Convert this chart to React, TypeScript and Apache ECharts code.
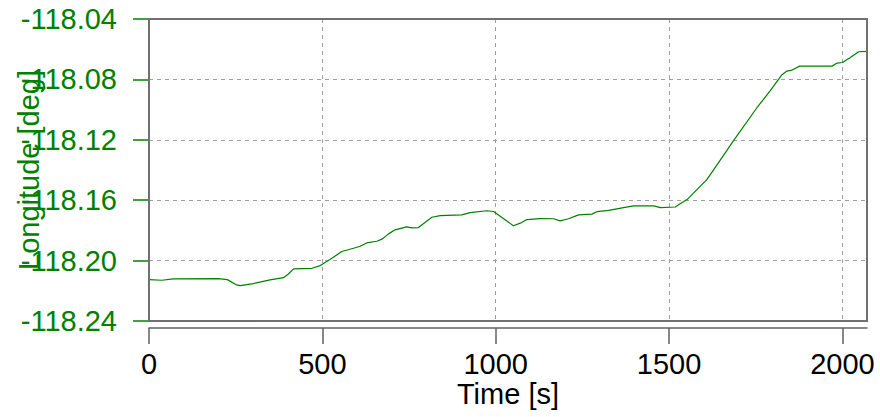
import React, { useEffect, useRef } from "react";
import * as echarts from "echarts";

const timeSec = [0, 37, 70, 200, 226, 253, 263, 301, 349, 388, 402, 417, 470, 494, 522, 556, 590, 609, 628, 657, 672, 691, 710, 743, 758, 777, 797, 816, 840, 902, 926, 975, 994, 1023, 1051, 1071, 1090, 1128, 1167, 1186, 1210, 1239, 1277, 1292, 1326, 1369, 1398, 1456, 1475, 1518, 1532, 1552, 1609, 1667, 1686, 1754, 1792, 1826, 1840, 1855, 1877, 1970, 1985, 2000, 2023, 2047, 2071];
const longitude = [-118.2126, -118.2130, -118.2121, -118.2119, -118.2126, -118.2161, -118.2166, -118.2152, -118.2128, -118.2113, -118.2089, -118.2055, -118.2051, -118.2033, -118.1993, -118.1940, -118.1918, -118.1905, -118.1883, -118.1872, -118.1858, -118.1823, -118.1796, -118.1777, -118.1783, -118.1781, -118.1746, -118.1713, -118.1702, -118.1697, -118.1682, -118.1670, -118.1675, -118.1723, -118.1769, -118.1752, -118.1728, -118.1722, -118.1723, -118.1737, -118.1723, -118.1697, -118.1692, -118.1676, -118.1667, -118.1649, -118.1638, -118.1638, -118.1649, -118.1645, -118.1623, -118.1596, -118.1464, -118.1270, -118.1206, -118.0986, -118.0875, -118.0769, -118.0745, -118.0738, -118.0712, -118.0712, -118.0692, -118.0688, -118.0655, -118.0617, -118.0615];
const xTicks = [0, 500, 1000, 1500, 2000];
const yTicks = [-118.24, -118.2, -118.16, -118.12, -118.08, -118.04];

const GREEN = "#008000";
const FONT = "Liberation Sans, Arial, sans-serif";
const FS = 29;

export default function App() {
  const ref = useRef<HTMLDivElement>(null);
  useEffect(() => {
    if (!ref.current) return;
    const chart = echarts.init(ref.current, null, { renderer: "svg" });
    const gl = 149, gt = 19, gr = 13, gb = 96;
    chart.setOption({
      animation: false,
      textStyle: { fontFamily: FONT },
      grid: { left: gl, top: gt, right: gr, bottom: gb, containLabel: false, outerBoundsMode: "none" },
      graphic: [
        {
          type: "rect",
          z: 100,
          silent: true,
          shape: { x: gl, y: gt, width: 880 - gl - gr, height: 417 - gt - gb },
          style: { fill: "none", stroke: "#707070", lineWidth: 2 },
        },
      ],
      xAxis: {
        type: "value",
        min: 0,
        max: 2071,
        interval: 500,
        offset: 7,
        name: "Time [s]",
        nameLocation: "middle",
        nameGap: 51,
        nameMoveOverlap: false,
        nameTextStyle: { color: "#000", fontSize: FS, fontFamily: FONT },
        axisLine: { show: true, lineStyle: { color: "#606060", width: 1.5 } },
        axisTick: { show: true, length: 16, customValues: xTicks, lineStyle: { color: "#606060", width: 1.5 } },
        axisLabel: {
          customValues: xTicks,
          color: "#000",
          fontSize: FS,
          fontFamily: FONT,
          margin: 21,
          formatter: (v: number) => String(Math.round(v)),
        },
        splitLine: { show: true, lineStyle: { color: "#a0a0a0", type: [4, 4], width: 1 } },
      },
      yAxis: {
        type: "value",
        min: -118.24,
        max: -118.04,
        interval: 0.04,
        offset: 7,
        name: "Longitude [deg]",
        nameLocation: "middle",
        nameGap: 99,
        nameMoveOverlap: false,
        nameTextStyle: { color: GREEN, fontSize: FS, fontFamily: FONT },
        axisLine: { show: true, lineStyle: { color: GREEN, width: 1.5 } },
        axisTick: { show: true, length: 16, customValues: yTicks, lineStyle: { color: GREEN, width: 1.5 } },
        axisLabel: {
          customValues: yTicks,
          color: GREEN,
          fontSize: FS,
          fontFamily: FONT,
          margin: 25,
          formatter: (v: number) => v.toFixed(2),
        },
        splitLine: { show: true, lineStyle: { color: "#a0a0a0", type: [4, 4], width: 1 } },
      },
      series: [
        {
          type: "line",
          data: timeSec.map((t, i) => [t, longitude[i]]),
          showSymbol: false,
          lineStyle: { color: GREEN, width: 1.2 },
          itemStyle: { color: GREEN },
        },
      ],
    });
    return () => chart.dispose();
  }, []);
  return <div ref={ref} style={{ width: 880, height: 417, position: "absolute", left: 0, top: 0 }} />;
}
